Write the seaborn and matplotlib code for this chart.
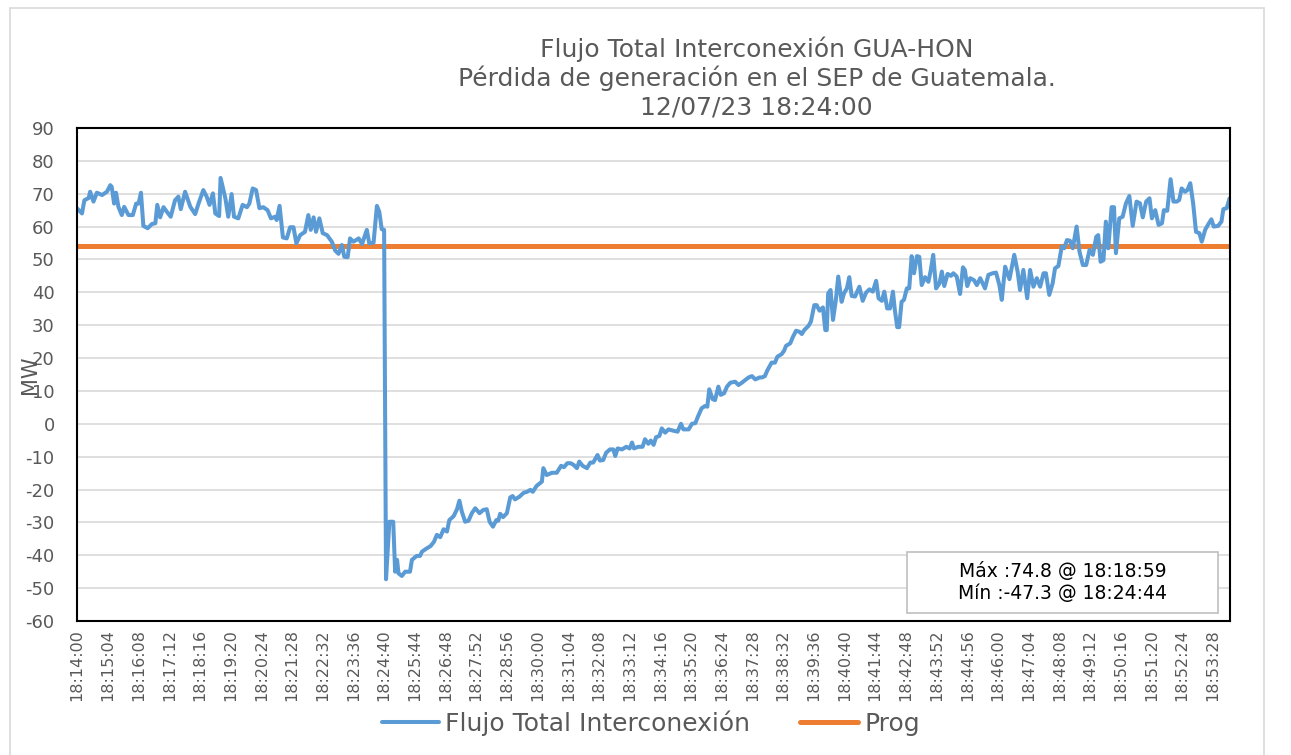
import matplotlib
matplotlib.use("Agg")
import matplotlib.pyplot as plt
import seaborn as sns
import pandas as pd
from matplotlib.patches import Rectangle

# seconds after 18:14:00 and MW
seconds = [
    0, 10, 15, 24, 27, 34, 41, 52, 62, 69, 72, 77, 81, 86, 93, 98, 107, 116, 123, 128,
    133, 138, 147, 156, 163, 167, 173, 180, 187, 195, 204, 211, 216, 225, 236, 246, 253, 263, 270, 276,
    283, 288, 296, 299, 309, 315, 322, 327, 336, 345, 354, 359, 366, 373, 380, 388, 397, 404, 413, 416,
    422, 429, 437, 444, 451, 457, 465, 475, 482, 487, 493, 498, 505, 512, 521, 531, 538, 545, 552, 557,
    564, 569, 576, 587, 594, 598, 604, 609, 618, 625, 630, 635, 640, 644, 651, 659, 663, 667, 670, 677,
    684, 694, 698, 708, 715, 719, 729, 737, 744, 750, 757, 764, 771, 776, 785, 792, 797, 802, 809, 816,
    823, 830, 839, 847, 854, 860, 867, 874, 878, 882, 888, 896, 903, 908, 913, 922, 931, 938, 945, 950,
    958, 969, 972, 979, 990, 1000, 1009, 1015, 1022, 1029, 1035, 1042, 1047, 1054, 1063, 1070, 1076, 1085, 1090, 1097,
    1103, 1111, 1118, 1122, 1127, 1136, 1145, 1152, 1157, 1161, 1170, 1179, 1184, 1191, 1196, 1202, 1207, 1214, 1219, 1226,
    1233, 1243, 1252, 1259, 1264, 1275, 1282, 1289, 1295, 1302, 1309, 1314, 1318, 1325, 1330, 1337, 1342, 1349, 1355, 1362,
    1372, 1379, 1386, 1393, 1400, 1407, 1414, 1423, 1428, 1434, 1439, 1448, 1455, 1460, 1469, 1474, 1478, 1487, 1492, 1499,
    1506, 1511, 1516, 1525, 1530, 1537, 1542, 1548, 1555, 1560, 1563, 1566, 1571, 1576, 1582, 1587, 1594, 1599, 1605, 1610,
    1615, 1622, 1631, 1638, 1645, 1652, 1659, 1666, 1671, 1678, 1683, 1689, 1695, 1701, 1705, 1710, 1714, 1719, 1724, 1730,
    1735, 1740, 1745, 1751, 1756, 1761, 1768, 1775, 1780, 1785, 1791, 1798, 1803, 1808, 1815, 1822, 1827, 1834, 1841, 1847,
    1851, 1856, 1862, 1870, 1876, 1883, 1893, 1900, 1909, 1916, 1923, 1928, 1935, 1944, 1954, 1961, 1966, 1973, 1981, 1987,
    1994, 2001, 2008, 2015, 2020, 2027, 2034, 2039, 2046, 2053, 2058, 2064, 2070, 2076, 2084, 2090, 2097, 2104, 2111, 2118,
    2125, 2129, 2134, 2140, 2145, 2150, 2157, 2162, 2166, 2173, 2180, 2187, 2194, 2201, 2209, 2216, 2222, 2229, 2236, 2241,
    2248, 2255, 2262, 2266, 2273, 2280, 2286, 2293, 2298, 2303, 2310, 2315, 2321, 2327, 2333, 2340, 2345, 2352, 2359, 2365,
    2370, 2379, 2386, 2390, 2397, 2403,
]
flujo = [
    65.5, 64, 68, 68.7, 70.6, 67.6, 70.3, 69.6, 70.6, 72.6, 72.1, 67, 70.3, 66, 63.5, 66, 63.5, 63.5, 67, 67,
    70.3, 60.2, 59.5, 60.8, 61, 66.6, 62.8, 65.9, 64.5, 63, 68, 69.1, 65.3, 70.6, 66, 63.8, 67, 71.1, 69.1, 66.6,
    70.1, 64, 63.2, 74.8, 68.6, 63, 69.9, 63, 62.5, 66.6, 65.9, 67, 71.6, 71.1, 65.6, 65.9, 65, 62.5, 63, 62,
    66.3, 56.7, 56.4, 59.8, 59.8, 54.9, 57.4, 58.4, 63.5, 59, 62.8, 58.4, 62.5, 58, 57.4, 55.4, 52.7, 51.7, 54.4, 50.8,
    50.7, 56.4, 55.4, 56.4, 54.7, 56.4, 59, 54.9, 55.1, 66.3, 64.5, 59.2, 59, -47.3, -29.8, -29.8, -45, -41.4, -45.5, -46.3,
    -45, -45, -41.4, -40.2, -40.2, -38.9, -37.9, -37.2, -35.9, -33.8, -34.5, -32.1, -32.8, -29.3, -28.1, -26, -23.4, -26.7, -29.8, -29.5,
    -27.2, -25.7, -27.2, -26.2, -26, -29.8, -31.3, -29.3, -29.5, -27.4, -28.4, -27.2, -22.4, -22, -23, -22.2, -21, -20.7, -20.1, -20.7,
    -18.9, -17.6, -13.5, -15.6, -14.9, -14.9, -12.8, -13.2, -12, -12, -12.5, -13.5, -11.5, -12.8, -13.5, -11.8, -11.8, -9.5, -11.2, -11,
    -8.8, -7.8, -7.8, -9.8, -7.5, -7.8, -7, -7.5, -5.7, -7.5, -7, -7, -4.7, -6.1, -5.1, -6.4, -4.1, -3.7, -1.4, -2.7,
    -1.7, -2.1, -2.4, 0, -1.7, -1.7, 0, 0.2, 2.4, 4.7, 5.4, 5.2, 10.5, 7.5, 7.2, 11.3, 8.8, 9.3, 11.3, 12.5,
    12.8, 11.8, 12.5, 13.3, 14.1, 14.5, 13.5, 14.1, 14.1, 14.5, 16.2, 18.6, 18.6, 20.4, 21.2, 22.2, 23.7, 24.5, 26.3, 28.3,
    28, 27.3, 28.5, 29.8, 31.1, 36.1, 36.1, 34.4, 35.4, 28.5, 28.5, 39.7, 40.7, 31.6, 37.7, 44.8, 37.1, 39.7, 41.2, 44.6,
    38.9, 38.7, 41.7, 37.4, 39.9, 40.9, 40.2, 43.5, 38.2, 37.4, 40.2, 35.1, 35.1, 40.2, 34.6, 29.4, 29.4, 37.1, 37.7, 41.2,
    41.2, 51, 45.8, 51, 50.8, 42.2, 44.6, 43.2, 46.8, 51.4, 41.2, 42.7, 46.3, 41.9, 45.6, 45, 45.8, 44.8, 39.5, 47.6,
    46.8, 41.9, 44.3, 43.7, 42.2, 44.3, 41.2, 45.3, 45.8, 46, 42.2, 37.7, 47.8, 44, 51.4, 46.3, 40.7, 46.8, 38.2, 46.8,
    41.7, 44.3, 41.7, 45.8, 45.8, 39.2, 42.7, 47.3, 48, 53.9, 53.4, 55.9, 55.7, 53.4, 60, 52.4, 48.3, 48.3, 52.9, 51.4,
    56.9, 57.4, 49.3, 49.8, 61.5, 53.4, 65.9, 65.9, 51.9, 62.5, 63, 67.1, 69.3, 60.2, 67.6, 67.1, 62.8, 67.6, 68.6, 62.5,
    65, 60.5, 61, 65, 64.8, 74.4, 67.6, 67.6, 68.1, 71.6, 70.6, 71.1, 73.2, 67.1, 58.4, 58, 55.4, 59, 60.8, 62.2,
    60, 60.2, 61.5, 65.3, 65.6, 68.6,
]
prog_value = 54.0

tick_labels = [
    "18:14:00", "18:15:04", "18:16:08", "18:17:12", "18:18:16", "18:19:20", "18:20:24", "18:21:28",
    "18:22:32", "18:23:36", "18:24:40", "18:25:44", "18:26:48", "18:27:52", "18:28:56", "18:30:00",
    "18:31:04", "18:32:08", "18:33:12", "18:34:16", "18:35:20", "18:36:24", "18:37:28", "18:38:32",
    "18:39:36", "18:40:40", "18:41:44", "18:42:48", "18:43:52", "18:44:56", "18:46:00", "18:47:04",
    "18:48:08", "18:49:12", "18:50:16", "18:51:20", "18:52:24", "18:53:28",
]
tick_step = 64  # seconds between labelled categories

df = pd.DataFrame({"t": seconds, "Flujo Total Interconexión": flujo})
df["Prog"] = prog_value
long_df = df.melt(id_vars="t", var_name="serie", value_name="MW")

sns.set_theme(style="white")
plt.rcParams['font.family'] = ['DejaVu Sans']
plt.rcParams['axes.unicode_minus'] = False

gray = "#595959"
fig = plt.figure(figsize=(12.91, 7.55), dpi=100)
ax = fig.add_axes([0.0596, 0.1775, 0.8932, 0.653])

# chart frame
fig.patches.append(Rectangle((0.008, -0.01), 0.971, 1.0, transform=fig.transFigure,
                             fill=False, edgecolor="#D9D9D9", lw=1.2))

sns.lineplot(data=long_df, x="t", y="MW", hue="serie",
             palette={"Flujo Total Interconexión": "#5B9BD5", "Prog": "#ED7D31"},
             ax=ax, legend=False, estimator=None, sort=False)
ax.lines[0].set_linewidth(2.9)
ax.lines[1].set_linewidth(3.6)
ax.lines[1].set_zorder(1.5)

ax.set_xlim(-0.5, 2404)
ax.set_ylim(-60, 90)
ax.set_yticks(range(-60, 91, 10))
ax.set_xticks([i * tick_step for i in range(len(tick_labels))])
ax.set_xticklabels(tick_labels, rotation=90)
ax.tick_params(axis="x", length=0, pad=6, labelsize=11.5, labelcolor=gray)
ax.tick_params(axis="y", length=0, pad=16, labelsize=13, labelcolor=gray)
ax.grid(axis="y", color="#D9D9D9", lw=1.2)
ax.set_axisbelow(True)
for sp in ax.spines.values():
    sp.set_color("black")
    sp.set_linewidth(1.5)
ax.set_xlabel("")
ax.set_ylabel("")

fig.text(0.023, 0.503, "MW", rotation=90, ha="center", va="center", fontsize=15, color=gray)

fig.text(0.586, 0.897, "Flujo Total Interconexión GUA-HON\nPérdida de generación en el SEP de Guatemala.\n12/07/23 18:24:00",
         ha="center", va="center", fontsize=18, color=gray, linespacing=1.2)

# max / min box
fig.patches.append(Rectangle((0.7026, 0.188), 0.2409, 0.081, transform=fig.transFigure,
                             facecolor="white", edgecolor="#BFBFBF", lw=1.2, zorder=5))
fig.text(0.823, 0.2285, "Máx :74.8 @ 18:18:59\nMín :-47.3 @ 18:24:44", ha="center", va="center",
         fontsize=13.5, color="black", linespacing=1.2, zorder=6)

fig.legend(handles=ax.lines[:2], labels=["Flujo Total Interconexión", "Prog"],
           loc="center", bbox_to_anchor=(0.504, 0.0424), ncol=2, frameon=False,
           fontsize=18, labelcolor=gray, handlelength=2.3, handletextpad=0.25, columnspacing=2.0)

fig.savefig("out.png", dpi=100)
